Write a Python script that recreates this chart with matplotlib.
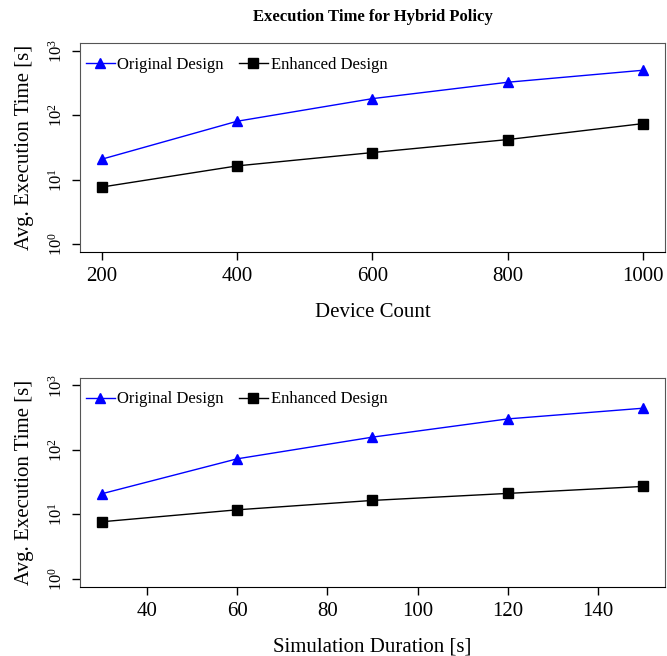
import matplotlib
matplotlib.use("Agg")
import matplotlib.pyplot as plt
from matplotlib.ticker import FixedLocator, FixedFormatter

plt.rcParams['font.family'] = ['Liberation Serif', 'DejaVu Serif']
plt.rcParams['mathtext.fontset'] = 'custom'
plt.rcParams['mathtext.rm'] = 'Liberation Serif'
plt.rcParams['mathtext.it'] = 'Liberation Serif:italic'

title = "Execution Time for Hybrid Policy"
ylabel = "Avg. Execution Time [s]"

devices = [200, 400, 600, 800, 1000]
dev_original = [20.8, 80.7, 181, 325, 499]
dev_enhanced = [7.7, 16.4, 26.4, 42, 74.3]

durations = [30, 60, 90, 120, 150]
dur_original = [20.9, 72.8, 158, 303, 444]
dur_enhanced = [7.7, 11.8, 16.5, 21.2, 27.2]

dev_xticks = [200, 400, 600, 800, 1000]
dur_xticks = [40, 60, 80, 100, 120, 140]
yticks = [1, 10, 100, 1000]
ytick_labels = [r'$10^0$', r'$10^1$', r'$10^2$', r'$10^3$']

fig = plt.figure(figsize=(6.67, 6.56), dpi=100)
ax1 = fig.add_axes([80 / 667, 1 - 252 / 656, 585 / 667, 209 / 656])
ax2 = fig.add_axes([80 / 667, 1 - 586.7 / 656, 585 / 667, 209 / 656])


def draw(ax, x, orig, enh, xticks, xlabel):
    ax.plot(x, orig, color='blue', marker='^', markersize=7.5, linewidth=1,
            label='Original Design')
    ax.plot(x, enh, color='black', marker='s', markersize=6.5, linewidth=1,
            label='Enhanced Design')
    ax.set_yscale('log')
    ax.set_ylim(10 ** -0.12, 10 ** 3.12)
    pad = (x[-1] - x[0]) * 0.04
    ax.set_xlim(x[0] - pad, x[-1] + pad)
    ax.xaxis.set_major_locator(FixedLocator(xticks))
    ax.yaxis.set_major_locator(FixedLocator(yticks))
    ax.yaxis.set_major_formatter(FixedFormatter(ytick_labels))
    ax.yaxis.set_minor_locator(FixedLocator([]))
    ax.tick_params(axis='x', labelsize=15, length=6, width=1, pad=5)
    ax.tick_params(axis='y', labelsize=12, length=6, width=1, pad=4,
                   labelrotation=90)
    for lab in ax.get_yticklabels():
        lab.set_va('center')
    for s in ['top', 'right', 'left']:
        ax.spines[s].set_color('#555555')
    ax.spines['bottom'].set_color('black')
    ax.set_xlabel(xlabel, fontsize=15, labelpad=12)
    ax.set_ylabel(ylabel, fontsize=15, labelpad=10)
    ax.legend(loc='upper left', ncol=2, frameon=False, fontsize=12,
              handlelength=1.75, handletextpad=0.15, columnspacing=0.9,
              borderaxespad=0.0, borderpad=0.2, bbox_to_anchor=(0.004, 0.95))


draw(ax1, devices, dev_original, dev_enhanced, dev_xticks, "Device Count")
draw(ax2, durations, dur_original, dur_enhanced, dur_xticks,
     "Simulation Duration [s]")

fig.text(373 / 667, 1 - 17 / 656, title, ha='center', va='center',
         fontsize=12, fontweight='bold')

fig.savefig('out.png', dpi=100)
